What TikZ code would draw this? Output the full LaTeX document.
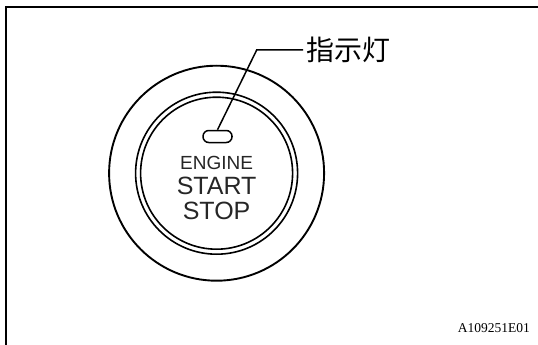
\documentclass[tikz,border=0pt]{standalone}
\usepackage{fontspec}
\setmainfont{Liberation Sans}
\newfontfamily\cjk{Noto Sans CJK SC}
\newfontfamily\partfont{Liberation Serif}
\begin{document}
\begin{tikzpicture}[x=1pt,y=-1pt,
  ring/.style={draw=black,line width=1.6pt},
  btntext/.style={anchor=base,inner sep=0pt,text=black!85},
  leader/.style={draw=black,line width=1.5pt}]
\useasboundingbox (0,0) rectangle (538,345);
% frame
\draw[line width=1.7pt] (5.7,345) -- (5.7,7.3) -- (538,7.3);
% bezel and button rings
\node[ring,circle,minimum size=215pt,inner sep=0pt,line width=1.9pt] (bezel) at (216.6,173.2) {};
\node[ring,circle,minimum size=162pt,inner sep=0pt] (btnout) at (216.6,173.2) {};
\node[ring,circle,minimum size=152pt,inner sep=0pt] (btnin) at (216.6,173.2) {};
% indicator lamp
\node[draw,line width=1.5pt,rounded corners=5.8pt,minimum width=29pt,minimum height=12pt,inner sep=0pt] (lamp) at (217.5,136.5) {};
% button legend
\node[btntext,font=\fontsize{19}{19}\selectfont] (engine) at (216.6,169.5) {ENGINE};
\node[btntext,font=\fontsize{25}{25}\selectfont] (start) at (216.6,194.5) {START};
\node[btntext,font=\fontsize{25}{25}\selectfont] (stop) at (216.6,219.5) {STOP};
% callout
\node[anchor=west,inner sep=3pt,font=\cjk\fontsize{28}{28}\selectfont] (lbl) at (303,50) {指示灯};
\coordinate (bend) at (256.7,50);
\draw[leader] (lamp.north) -- (bend) -- (lbl.west);
% part number
\node[anchor=base east,inner sep=0pt,font=\partfont\fontsize{13.5}{13.5}\selectfont] (id) at (530,332) {A109251E01};
\end{tikzpicture}
\end{document}
